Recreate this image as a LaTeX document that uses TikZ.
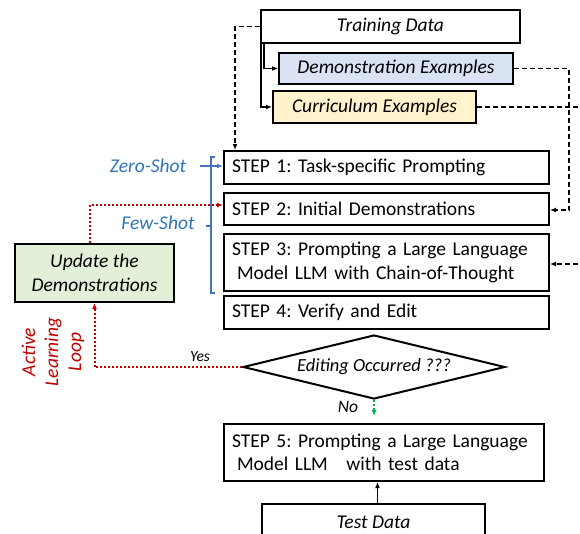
\documentclass[tikz,border=0pt]{standalone}
\usepackage{fontspec}
\setmainfont{Carlito}
\frenchspacing
\usetikzlibrary{shapes.geometric,arrows.meta,calc}
\definecolor{demofill}{HTML}{DAE3F3}
\definecolor{currfill}{HTML}{FFF2CC}
\definecolor{updfill}{HTML}{E2F0D9}
\definecolor{shotblue}{HTML}{2E75B6}
\definecolor{brblue}{HTML}{4472C4}
\definecolor{loopred}{HTML}{C00000}
\definecolor{nogreen}{HTML}{00B050}
\tikzset{
  box/.style={draw, line width=2pt, inner sep=0pt, font=\fontsize{19.5}{23.5}\selectfont},
  ibox/.style={box, font=\fontsize{19.5}{23.5}\selectfont\itshape},
  stepbox/.style={box, anchor=north west, inner xsep=8pt, align=left},
  tip/.style={-{Latex[length=6pt,width=5pt]}},
  dashconn/.style={tip, line width=1.8pt, dash pattern=on 5pt off 3pt},
  solidconn/.style={tip, line width=1.4pt},
  redconn/.style={tip, line width=2pt, loopred, dash pattern=on 2pt off 2pt},
  greenconn/.style={tip, line width=1.8pt, nogreen, dash pattern=on 2pt off 2pt},
  blueconn/.style={tip, line width=1.4pt, brblue},
  shotlabel/.style={font=\fontsize{19.5}{23.5}\selectfont\itshape, text=shotblue},
}
\begin{document}
\begin{tikzpicture}[x=1pt,y=-1pt]
\useasboundingbox (0,0) rectangle (580,533);
% data boxes
\node[ibox, anchor=north west, minimum width=259pt, minimum height=33pt] (td) at (260,9) {Training Data};
\node[ibox, fill=demofill, anchor=north west, minimum width=234pt, minimum height=31pt] (demo) at (278,52) {Demonstration Examples};
\node[ibox, fill=currfill, anchor=north west, minimum width=203pt, minimum height=32pt] (curr) at (272,90) {Curriculum Examples};
% steps
\node[stepbox, text width=309pt, minimum height=33pt] (s1) at (223,150) {STEP 1: Task-specific Prompting};
\node[stepbox, text width=309pt, minimum height=32pt] (s2) at (223,192) {STEP 2: Initial Demonstrations};
\node[stepbox, text width=309pt, minimum height=57pt] (s3) at (223,233) {STEP 3: Prompting a Large Language\\\hspace*{5pt}Model LLM with Chain-of-Thought};
\node[stepbox, text width=309pt, minimum height=33pt] (s4) at (223,295) {STEP 4: Verify and Edit};
\node[diamond, draw, line width=2pt, inner sep=0pt, aspect=4, minimum width=262pt, minimum height=64pt, font=\fontsize{18.5}{22}\selectfont\itshape] (dia) at (374,367) {Editing Occurred ???};
\node[stepbox, text width=304pt, minimum height=57pt] (s5) at (223,423) {STEP 5: Prompting a Large Language\\\hspace*{5pt}Model LLM\hspace*{12pt} with test data};
\node[ibox, anchor=north west, minimum width=223pt, minimum height=36pt] (test) at (261,503) {Test Data};
\node[ibox, fill=updfill, anchor=north west, minimum width=159pt, minimum height=58pt, align=center] (upd) at (14,243) {Update the\\Demonstrations};
% labels
\node[shotlabel] (zs) at (148,166) {Zero-Shot};
\node[shotlabel] (fs) at (158,223) {Few-Shot};
\node[rotate=90, align=center, text=loopred, font=\fontsize{19.5}{23}\selectfont\itshape] (all) at (53,352) {Active\\Learning\\Loop};
\node[font=\fontsize{15.5}{18}\selectfont\itshape] (yes) at (200,357) {Yes};
\node[font=\fontsize{17.5}{20}\selectfont\itshape] (no) at (348,407) {No};
% connectors from data
\coordinate (k1) at (235,150);
\draw[dashconn] (td.west) -| (k1);
\draw[solidconn] ([xshift=4pt]td.south west) |- (demo.west);
\draw[solidconn] ([xshift=1pt]td.south west) |- (curr.west);
\draw[dashconn] (demo.east) -- ++(55,0) |- ([yshift=-1pt]s2.east);
\draw[dashconn] (curr.east) -- ++(120,0) |- ([yshift=-1.5pt]s3.east);
% zero/few shot bracket
\coordinate (zsa) at (200,166);
\draw[blueconn] (zsa) -- (s1.west |- zsa);
\draw[line width=1.4pt, brblue] (215,157) -- (211,157) -- (211,293) -- (215,293);
\draw[line width=1.4pt, brblue] (206,226) -- (211,226);
% active learning loop
\draw[redconn] ([xshift=-5pt]upd.north) |- ([yshift=4pt]s2.west);
\draw[redconn] (dia.west) -| (upd.south);
\coordinate (gend) at (374,416);
\draw[greenconn] (dia.south) -- (gend);
\draw[solidconn] ([xshift=4pt]test.north) -- ([xshift=4pt]test.north |- s5.south);
\end{tikzpicture}
\end{document}
